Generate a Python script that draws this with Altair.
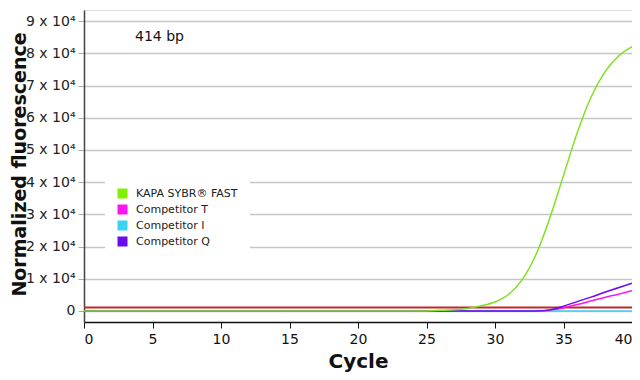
import altair as alt
import pandas as pd

cycles = list(range(0, 41))

kapa = [0] * 26 + [200, 400, 800, 1600, 2800, 5200, 9800, 17600, 28800,
                   42100, 55300, 66300, 74100, 79100, 82100]
comp_t = [0] * 34 + [200, 1000, 2000, 3100, 4200, 5200, 6300]
comp_i = [0] * 41
comp_q = [0] * 34 + [300, 1500, 2900, 4300, 5800, 7200, 8600]

series_names = ["KAPA SYBR® FAST", "Competitor T", "Competitor I", "Competitor Q"]
series_colors = ["#80f000", "#ff14f0", "#38d2f2", "#6a0af0"]
threshold = 1100
y_ticks = [0, 10000, 20000, 30000, 40000, 50000, 60000, 70000, 80000, 90000]
x_ticks = [0, 5, 10, 15, 20, 25, 30, 35, 40]

rows = []
for name, vals in zip(series_names, [kapa, comp_t, comp_i, comp_q]):
    for c, v in zip(cycles, vals):
        rows.append({"Cycle": c, "Fluor": v, "Series": name})
df = pd.DataFrame(rows)

FONT = "DejaVu Sans"

x_enc = alt.X("Cycle:Q", scale=alt.Scale(domain=[0, 40], nice=False),
              axis=alt.Axis(values=x_ticks, title="Cycle", grid=False,
                            domainColor="#111", domainWidth=1.5,
                            tickColor="#111", tickSize=6, tickWidth=1,
                            labelFont=FONT, labelFontSize=14, labelColor="#111",
                            labelPadding=4,
                            titleFont=FONT, titleFontSize=20, titleFontWeight="bold",
                            titleColor="#111", titleY=45, titleBaseline="alphabetic"))
y_enc = alt.Y("Fluor:Q", scale=alt.Scale(domain=[-3420, 93450], nice=False, zero=False),
              axis=alt.Axis(values=y_ticks, title="Normalized fluorescence",
                            labelExpr="datum.value == 0 ? '0' : (datum.value / 10000) + ' x 10⁴'",
                            grid=True, gridColor="#c6c6c6", gridWidth=1.5,
                            domainColor="#444", domainWidth=1.5,
                            tickColor="#aaaaaa", tickSize=6, tickWidth=1,
                            labelFont=FONT, labelFontSize=14, labelColor="#222",
                            labelPadding=3,
                            titleFont=FONT, titleFontSize=19, titleFontWeight="bold",
                            titleColor="#111", titleX=-59, titleY=154,
                            titleAngle=270, titleAlign="center",
                            titleBaseline="alphabetic"))

color_scale = alt.Scale(domain=series_names, range=series_colors)

thr_df = pd.DataFrame({"Fluor": [threshold]})
thr = alt.Chart(thr_df).mark_rule(color="#c0282d", strokeWidth=2).encode(y=y_enc)

others = alt.Chart(df[df["Series"] != series_names[0]]).mark_line(
    strokeWidth=1.5, interpolate="monotone").encode(
    x=x_enc, y=y_enc,
    color=alt.Color("Series:N", scale=color_scale, legend=None))
green = alt.Chart(df[df["Series"] == series_names[0]]).mark_line(
    strokeWidth=1.5, interpolate="monotone", color="#80e020").encode(
    x=x_enc, y=y_enc)

# invisible squares that only carry the legend
legend_layer = alt.Chart(df[df["Cycle"] == 0]).mark_square(
    size=0, filled=True).encode(
    x=x_enc, y=y_enc,
    color=alt.Color("Series:N", scale=color_scale,
                    legend=alt.Legend(title=None, orient="none",
                                      legendX=21, legendY=166,
                                      fillColor="white", padding=12,
                                      symbolType="square", symbolSize=100,
                                      symbolStrokeWidth=0, symbolOpacity=1,
                                      labelFont=FONT, labelFontSize=11,
                                      labelColor="#222", labelOffset=8,
                                      rowPadding=4)))

label = alt.Chart(pd.DataFrame({"t": ["414 bp"]})).mark_text(
    font=FONT, fontSize=14, color="#111", align="left", baseline="middle").encode(
    text="t:N", x=alt.value(51), y=alt.value(27))

chart = alt.layer(thr, others, green, legend_layer, label).resolve_scale(
    color="independent").properties(
    width=548, height=312,
    autosize=alt.AutoSizeParams(type="none"),
    padding={"left": 76, "top": 2, "right": 0, "bottom": 50},
).configure_view(stroke=None).configure(background="white")

chart.save("out.html", embed_options={"renderer": "svg", "actions": False})
